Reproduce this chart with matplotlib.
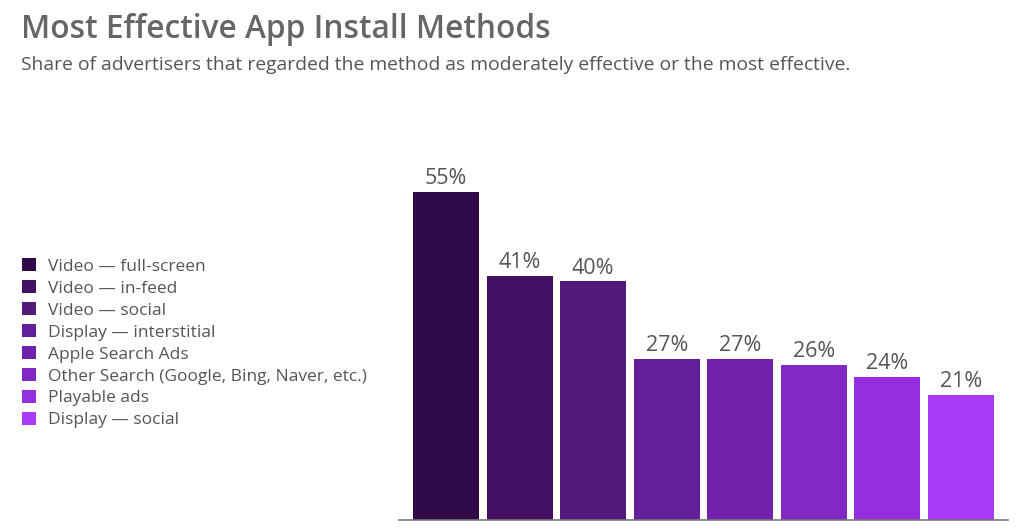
import matplotlib
matplotlib.use("Agg")
import matplotlib.pyplot as plt
from matplotlib.patches import Patch

# data
methods = ["Video \u2014 full-screen", "Video \u2014 in-feed", "Video \u2014 social",
           "Display \u2014 interstitial", "Apple Search Ads",
           "Other Search (Google, Bing, Naver, etc.)", "Playable ads",
           "Display \u2014 social"]
shares = [55, 41, 40, 27, 27, 26, 24, 21]
colors = ["#300a48", "#420f62", "#531a7d", "#631f9a",
          "#7022ac", "#8228c4", "#962ee0", "#a83af8"]

plt.rcParams["font.family"] = ["Open Sans", "DejaVu Sans"]

W, H = 1024, 532
fig = plt.figure(figsize=(W / 100, H / 100), dpi=100)

# plot area: x 399..1008 px, y 130..520 px (from top)
ax = fig.add_axes([399 / W, 12 / H, 609 / W, 390 / H])
xs = list(range(len(shares)))
bars = ax.bar(xs, shares, width=0.9, color=colors)
for x, v in zip(xs, shares):
    ax.text(x, v + 0.45, f"{v}%", ha="center", va="bottom",
            fontsize=15.5, color="#555555")

ax.set_xlim(-0.64, 7.64)
ax.set_ylim(0, 65.4)
for s in ["top", "right", "left"]:
    ax.spines[s].set_visible(False)
ax.spines["bottom"].set_color("#777777")
ax.spines["bottom"].set_linewidth(1.2)
ax.set_xticks([])
ax.set_yticks([])

# title and subtitle
fig.text(21 / W, 1 - 29 / H, "Most Effective App Install Methods",
         fontsize=22.8, fontweight="semibold", color="#666666", va="center")
fig.text(21 / W, 1 - 65 / H,
         "Share of advertisers that regarded the method as moderately effective or the most effective.",
         fontsize=13.9, color="#555555", va="center")

# legend
handles = [Patch(facecolor=c, edgecolor="none") for c in colors]
fig.legend(handles, methods, loc="upper left",
           bbox_to_anchor=(22 / W, 1 - 258 / H), frameon=False,
           fontsize=12.5, labelcolor="#555555", handlelength=0.8,
           handleheight=0.8, handletextpad=0.7, labelspacing=0.305,
           borderpad=0, borderaxespad=0)

fig.savefig("out.png", dpi=100, facecolor="white")
